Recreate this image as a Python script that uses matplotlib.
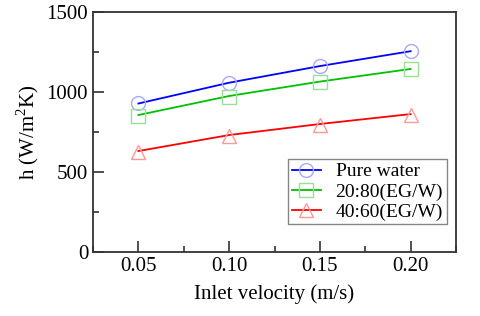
import numpy as np
import matplotlib.pyplot as plt
from matplotlib.ticker import MultipleLocator

plt.rcParams['font.family'] = ['Liberation Serif', 'DejaVu Serif']
plt.rcParams['mathtext.fontset'] = 'custom'
plt.rcParams['mathtext.rm'] = 'Liberation Serif'

velocity = [0.05, 0.10, 0.15, 0.20]

# measured points (markers)
h_water = [931, 1056, 1164, 1258]
h_2080 = [850, 970, 1064, 1142]
h_4060 = [625, 722, 794, 856]

# fitted curves (lines)
fit_water = [928, 1058, 1162, 1255]
fit_2080 = [856, 975, 1065, 1144]
fit_4060 = [631, 731, 800, 862]

labels = ["Pure water", "20:80(EG/W)", "40:60(EG/W)"]

fig = plt.figure(figsize=(4.8, 3.16), dpi=100)
ax = fig.add_axes([93 / 480, 1 - 252 / 316, 363 / 480, 240 / 316])

series = [
    (h_water, fit_water, "o", "#0000ff", "#a8a8ff"),
    (h_2080, fit_2080, "s", "#00c000", "#98e098"),
    (h_4060, fit_4060, "^", "#ff0000", "#ff9898"),
]
handles = []
for (pts, fit, mk, lc, mc), lab in zip(series, labels):
    ax.plot(velocity, fit, color=lc, lw=1.3, zorder=2)
    ax.plot(velocity, pts, ls="none", marker=mk, ms=10, mfc="none",
            mec=mc, mew=1.0, zorder=3)
    h, = ax.plot([], [], color=lc, lw=1.3, marker=mk, ms=10, mfc="none",
                 mec=mc, mew=1.0)
    handles.append(h)

ax.set_xlim(0.025, 0.225)
ax.set_ylim(0, 1500)
ax.set_xticks(velocity)
ax.set_xticklabels(["0.05", "0.10", "0.15", "0.20"])
ax.xaxis.set_minor_locator(MultipleLocator(0.025))
ax.yaxis.set_major_locator(MultipleLocator(500))
ax.yaxis.set_minor_locator(MultipleLocator(250))
ax.tick_params(which="both", direction="in", top=False, right=False,
               width=1.2, colors="#333333", labelcolor="black", labelsize=15)
ax.tick_params(which="major", length=8)
ax.tick_params(which="minor", length=4)
for s in ax.spines.values():
    s.set_linewidth(1.3)
    s.set_color("#333333")

ax.set_xlabel("Inlet velocity (m/s)", fontsize=15, labelpad=6)
ax.set_ylabel("h (W/m$^2$K)", fontsize=15, labelpad=4)

leg = ax.legend(handles, labels, loc="lower right", bbox_to_anchor=(0.975, 0.115),
                fontsize=14, frameon=True, fancybox=False, edgecolor="#666666",
                handlelength=1.5, borderpad=0.2, labelspacing=0.12,
                handletextpad=0.75, borderaxespad=0, numpoints=1)
leg.get_frame().set_linewidth(1.0)

fig.savefig("out.png", dpi=100)
